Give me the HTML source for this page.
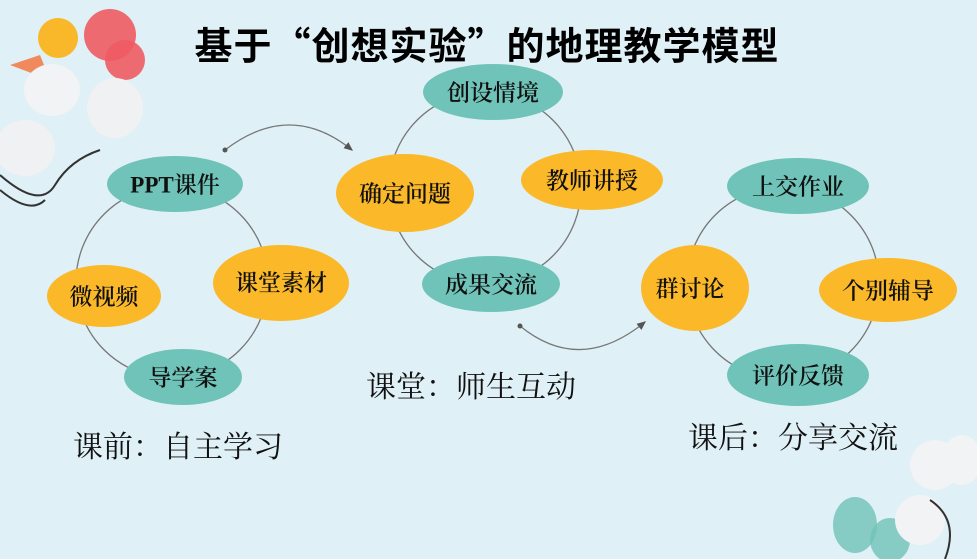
<!DOCTYPE html>
<html><head><meta charset="utf-8"><style>
html,body{margin:0;padding:0}
body{width:977px;height:559px;background:#dff0f6;overflow:hidden;position:relative;font-family:"Liberation Serif","Noto Serif CJK SC","Noto Sans CJK SC",serif}
svg{position:absolute;left:0;top:0}
</style></head><body>
<svg width="977" height="559" viewBox="0 0 977 559" xmlns="http://www.w3.org/2000/svg">
<defs><marker id="ar" markerWidth="8" markerHeight="8" refX="6" refY="4" orient="auto"><path d="M0,1 L7,4 L0,7 Z" fill="#555"/></marker></defs>
<g>
<circle cx="110" cy="35" r="26" fill="#ef5b63" opacity="0.9"/>
<circle cx="125" cy="60" r="20" fill="#ef5b63" opacity="0.9"/>
<circle cx="58" cy="38" r="20" fill="#f8b82a"/>
<path d="M10,65 L40,55 L50,80 Z" fill="#f08a5d"/>
<ellipse cx="52" cy="90" rx="28" ry="26" fill="#f2f3f5"/>
<ellipse cx="115" cy="108" rx="28" ry="30" fill="#f0f1f3"/>
<ellipse cx="25" cy="148" rx="30" ry="28" fill="#f0f1f3"/>
<path d="M0,175 Q40,210 55,185 Q70,160 100,150" stroke="#333" stroke-width="2" fill="none"/>
<path d="M0,190 Q30,215 45,200" stroke="#333" stroke-width="2" fill="none"/>
</g>
<g>
<ellipse cx="855" cy="525" rx="22" ry="28" fill="#6fc3b8" opacity="0.8"/>
<ellipse cx="890" cy="540" rx="20" ry="22" fill="#6fc3b8" opacity="0.8"/>
<ellipse cx="935" cy="465" rx="25" ry="25" fill="#f2f3f5"/>
<ellipse cx="962" cy="460" rx="20" ry="25" fill="#f2f3f5"/>
<ellipse cx="920" cy="520" rx="25" ry="25" fill="#f2f3f5"/>
<path d="M930,500 Q960,520 945,559" stroke="#333" stroke-width="2" fill="none"/>
</g>
<g fill="none" stroke="#777" stroke-width="1.3">
<circle cx="172" cy="282" r="96"/>
<circle cx="485" cy="188" r="96"/>
<circle cx="783" cy="283" r="96"/>
<path d="M225,150 Q290,100 352,150" marker-end="url(#ar)"/>
<path d="M520,326 Q580,375 645,322" marker-end="url(#ar)"/>
</g>
<circle cx="225" cy="150" r="2.5" fill="#555"/>
<circle cx="520" cy="326" r="2.5" fill="#555"/>
<g>
<ellipse cx="175" cy="184" rx="68" ry="28" fill="#6fc3b8"/>
<ellipse cx="281" cy="283" rx="68" ry="38" fill="#fbb829"/>
<ellipse cx="104" cy="296" rx="57" ry="31" fill="#fbb829"/>
<ellipse cx="183" cy="377" rx="59" ry="28" fill="#6fc3b8"/>
<ellipse cx="493" cy="92" rx="70" ry="28" fill="#6fc3b8"/>
<ellipse cx="405" cy="193" rx="69" ry="39" fill="#fbb829"/>
<ellipse cx="592" cy="180" rx="71" ry="30" fill="#fbb829"/>
<ellipse cx="491" cy="284" rx="69" ry="28" fill="#6fc3b8"/>
<ellipse cx="798" cy="186" rx="71" ry="28" fill="#6fc3b8"/>
<ellipse cx="695" cy="288" rx="54" ry="43" fill="#fbb829"/>
<ellipse cx="888" cy="290" rx="69" ry="32" fill="#fbb829"/>
<ellipse cx="798" cy="375" rx="71" ry="31" fill="#6fc3b8"/>
</g>
<g font-size="23" font-weight="600" text-anchor="middle" dominant-baseline="central" fill="#111" font-family="Liberation Serif, Noto Serif CJK SC, serif">
<text x="175" y="185">PPT课件</text>
<text x="281" y="283">课堂素材</text>
<text x="104" y="297">微视频</text>
<text x="183" y="378">导学案</text>
<text x="493" y="93">创设情境</text>
<text x="405" y="194">确定问题</text>
<text x="592" y="181">教师讲授</text>
<text x="491" y="285">成果交流</text>
<text x="798" y="187">上交作业</text>
<text x="690" y="289">群讨论</text>
<text x="888" y="291">个别辅导</text>
<text x="798" y="376">评价反馈</text>
</g>
<g font-size="30" fill="#111" dominant-baseline="central" font-family="Noto Serif CJK SC, serif">
<text x="366" y="384">课堂：师生互动</text>
<text x="73" y="444">课前：自主学习</text>
<text x="688" y="435">课后：分享交流</text>
</g>
<text x="487" y="43" font-size="38" letter-spacing="1" font-weight="bold" text-anchor="middle" dominant-baseline="central" fill="#000" font-family="Noto Sans CJK SC, sans-serif">基于“创想实验”的地理教学模型</text>
</svg>
</body></html>
